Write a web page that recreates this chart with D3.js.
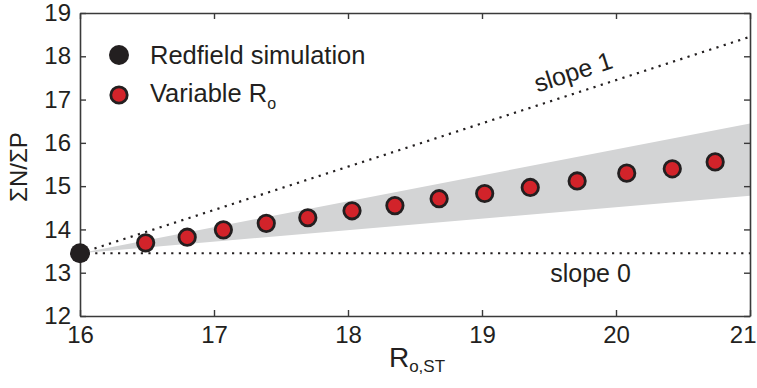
<!DOCTYPE html>
<html>
<head>
<meta charset="utf-8">
<script src="https://cdn.jsdelivr.net/npm/d3@7"></script>
<style>
  body { margin: 0; background: #fff; }
  text { font-family: "Liberation Sans", Arial, Helvetica, sans-serif; fill: #231f20; }
</style>
</head>
<body>
<div id="chart"></div>
<script>
// plot box, matlab-ish framed axes
const margin = { top: 13, right: 7, bottom: 72, left: 80 };
const width = 757 - margin.left - margin.right;
const height = 388 - margin.top - margin.bottom;

// data
const redfieldR = [16];
const redfieldNP = [13.45];
const variableR = [16.49, 16.80, 17.07, 17.39, 17.70, 18.03, 18.35, 18.68, 19.02, 19.36, 19.71, 20.08, 20.42, 20.74];
const variableNP = [13.69, 13.82, 13.99, 14.14, 14.27, 14.43, 14.55, 14.71, 14.83, 14.97, 15.12, 15.30, 15.40, 15.56];

// grey envelope (lower / upper edge)
const bandR = [16, 21];
const bandLow = [13.45, 14.78];
const bandHigh = [13.45, 16.45];

// reference lines through the redfield point
const slopeR = [16, 21];
const slope1NP = [13.45, 18.45];
const slope0NP = [13.45, 13.45];

const xTicks = [16, 17, 18, 19, 20, 21];
const yTicks = [12, 13, 14, 15, 16, 17, 18, 19];

const svg = d3.select("#chart")
  .append("svg")
  .attr("width", 757)
  .attr("height", 388)
  .append("g")
  .attr("transform", `translate(${margin.left},${margin.top})`);

const x = d3.scaleLinear().domain([16, 21]).range([0, width]);
const y = d3.scaleLinear().domain([12, 19]).range([height, 0]);

// band
const band = bandR.map((r, i) => ({ r, lo: bandLow[i], hi: bandHigh[i] }));
svg.append("path")
  .datum(band)
  .attr("fill", "#d3d4d5")
  .attr("d", d3.area().x(d => x(d.r)).y0(d => y(d.lo)).y1(d => y(d.hi)));

// dotted slope lines
const line = d3.line().x(d => x(d[0])).y(d => y(d[1]));
[slope1NP, slope0NP].forEach(vals => {
  svg.append("path")
    .datum(slopeR.map((r, i) => [r, vals[i]]))
    .attr("fill", "none")
    .attr("stroke", "#231f20")
    .attr("stroke-width", 2.2)
    .attr("stroke-dasharray", "2.2,5.4")
    .attr("d", line);
});

// slope labels
const ang = Math.atan2(y(slope1NP[1]) - y(slope1NP[0]), x(slopeR[1]) - x(slopeR[0])) * 180 / Math.PI;
svg.append("text")
  .attr("transform", `translate(${x(19.7)},${y(17.45)}) rotate(${ang})`)
  .attr("text-anchor", "middle")
  .style("font-size", "25px")
  .text("slope 1");

svg.append("text")
  .attr("x", x(19.81))
  .attr("y", y(13.45) + 29)
  .attr("text-anchor", "middle")
  .style("font-size", "25px")
  .text("slope 0");

// axes: bottom/left with labels, top/right ticks only, all inward
const axisColor = "#3a3a3a";
function styleAxis(g) {
  g.select(".domain").attr("stroke", axisColor).attr("stroke-width", 1.6);
  g.selectAll(".tick line").attr("stroke", axisColor).attr("stroke-width", 1.4);
  g.selectAll(".tick text").style("font-size", "24px").attr("fill", "#231f20");
}

const xAxisGroup = svg.append("g")
  .attr("transform", `translate(0,${height})`)
  .call(d3.axisBottom(x).tickValues(xTicks).tickSizeInner(-6).tickSizeOuter(0).tickPadding(10).tickFormat(d3.format("d")))
  .call(styleAxis);

// last label sits at the window edge, keep it inside
xAxisGroup.selectAll(".tick text")
  .filter(d => d === 21)
  .attr("text-anchor", "end")
  .attr("x", 6);

svg.append("g")
  .call(d3.axisLeft(y).tickValues(yTicks).tickSizeInner(-6).tickSizeOuter(0).tickPadding(9).tickFormat(d3.format("d")))
  .call(styleAxis);

svg.append("g")
  .call(d3.axisTop(x).tickValues(xTicks).tickSizeInner(-6).tickSizeOuter(0).tickFormat(""))
  .call(styleAxis);

svg.append("g")
  .attr("transform", `translate(${width},0)`)
  .call(d3.axisRight(y).tickValues(yTicks).tickSizeInner(-6).tickSizeOuter(0).tickFormat(""))
  .call(styleAxis);

// points
svg.selectAll(".var-pt")
  .data(variableR.map((r, i) => ({ r, v: variableNP[i] })))
  .enter()
  .append("circle")
  .attr("class", "var-pt")
  .attr("cx", d => x(d.r))
  .attr("cy", d => y(d.v))
  .attr("r", 8.2)
  .attr("fill", "#d2232a")
  .attr("stroke", "#231f20")
  .attr("stroke-width", 2.8);

svg.selectAll(".red-pt")
  .data(redfieldR.map((r, i) => ({ r, v: redfieldNP[i] })))
  .enter()
  .append("circle")
  .attr("class", "red-pt")
  .attr("cx", d => x(d.r))
  .attr("cy", d => y(d.v))
  .attr("r", 10)
  .attr("fill", "#231f20");

// legend
const legend = svg.append("g").attr("transform", "translate(39,0)");
legend.append("circle").attr("cx", 0).attr("cy", 42).attr("r", 10).attr("fill", "#231f20");
legend.append("text").attr("x", 31).attr("y", 51).style("font-size", "25.5px").text("Redfield simulation");
legend.append("circle").attr("cx", 0).attr("cy", 82).attr("r", 8.2)
  .attr("fill", "#d2232a").attr("stroke", "#231f20").attr("stroke-width", 2.8);
const vt = legend.append("text").attr("x", 31).attr("y", 89).style("font-size", "25.5px");
vt.append("tspan").text("Variable R");
vt.append("tspan").attr("dy", 7).style("font-size", "16px").text("o");

// axis titles
const xt = svg.append("text")
  .attr("x", width / 2 + 2)
  .attr("y", height + 51)
  .attr("text-anchor", "middle")
  .style("font-size", "28px");
xt.append("tspan").text("R");
xt.append("tspan").attr("dy", 5).style("font-size", "17px").text("o,ST");

svg.append("text")
  .attr("transform", `translate(${-margin.left + 27},${y(15.44)}) rotate(-90)`)
  .attr("text-anchor", "middle")
  .style("font-size", "24px")
  .text("ΣN/ΣP");
</script>
</body>
</html>
